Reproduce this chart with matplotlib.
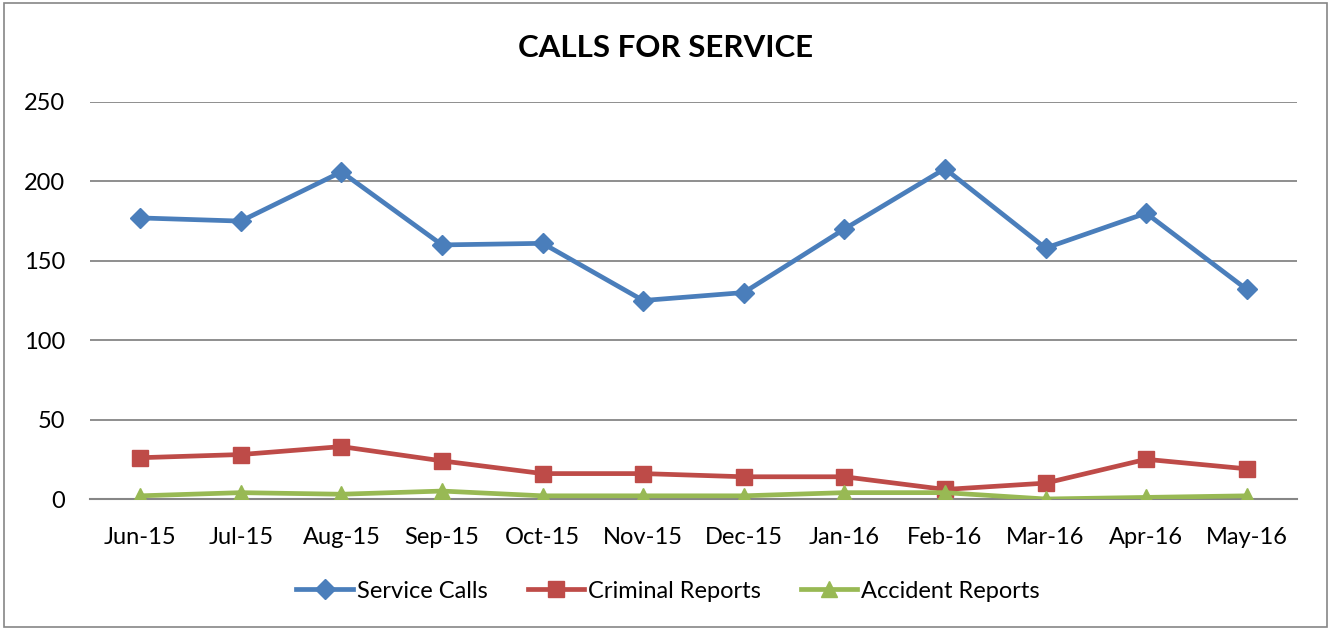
import matplotlib
matplotlib.use("Agg")
import matplotlib.pyplot as plt
from matplotlib.patches import Rectangle

months = ["Jun-15", "Jul-15", "Aug-15", "Sep-15", "Oct-15", "Nov-15",
          "Dec-15", "Jan-16", "Feb-16", "Mar-16", "Apr-16", "May-16"]
service_calls = [177, 175, 206, 160, 161, 125, 130, 170, 208, 158, 180, 132]
criminal_reports = [26, 28, 33, 24, 16, 16, 14, 14, 6, 10, 25, 19]
accident_reports = [2, 4, 3, 5, 2, 2, 2, 4, 4, 0, 1, 2]
yticks = [0, 50, 100, 150, 200, 250]

plt.rcParams['font.family'] = ['Lato', 'DejaVu Sans']

W, H = 1331, 630
fig = plt.figure(figsize=(W / 100, H / 100), dpi=100)
ax = fig.add_axes([90 / W, 1 - 499 / H, (1297 - 90) / W, (499 - 102) / H])

x = list(range(len(months)))
ax.plot(x, service_calls, color="#4A7EBB", lw=3.4, marker="D", ms=10,
        label="Service Calls", zorder=3)
ax.plot(x, criminal_reports, color="#BE4B48", lw=3.4, marker="s", ms=12,
        label="Criminal Reports", zorder=3)
ax.plot(x, accident_reports, color="#98B954", lw=3.4, marker="^", ms=12,
        label="Accident Reports", zorder=3)

ax.set_xlim(-0.5, len(months) - 0.5)
ax.set_ylim(0, 250)
ax.set_yticks(yticks)
ax.set_xticks(x)
ax.set_xticklabels(months)
ax.yaxis.grid(True, color="#868686", lw=1.3)
ax.set_axisbelow(True)
for s in ["left", "right", "top"]:
    ax.spines[s].set_visible(False)
ax.spines["bottom"].set_color("#868686")
ax.spines["bottom"].set_linewidth(1.5)
ax.tick_params(axis="both", length=0, labelsize=17)
ax.tick_params(axis="x", pad=20)
ax.tick_params(axis="y", pad=18)
for lab in ax.get_xticklabels() + ax.get_yticklabels():
    lab.set_clip_on(False)

fig.text(666 / W, 1 - 48 / H, "CALLS FOR SERVICE", ha="center", va="center",
         fontsize=22.5, fontweight="bold")

leg = fig.legend(loc="center", bbox_to_anchor=(668 / W, 1 - 591 / H), ncol=3,
                 frameon=False, fontsize=17, handlelength=2.4,
                 columnspacing=1.7, handletextpad=0.15)

fig.patches.append(Rectangle((4 / W, 3 / H), (W - 8) / W, (H - 6) / H,
                             transform=fig.transFigure, fill=False,
                             edgecolor="#868686", lw=1.2))

fig.savefig("out.png", dpi=100)
